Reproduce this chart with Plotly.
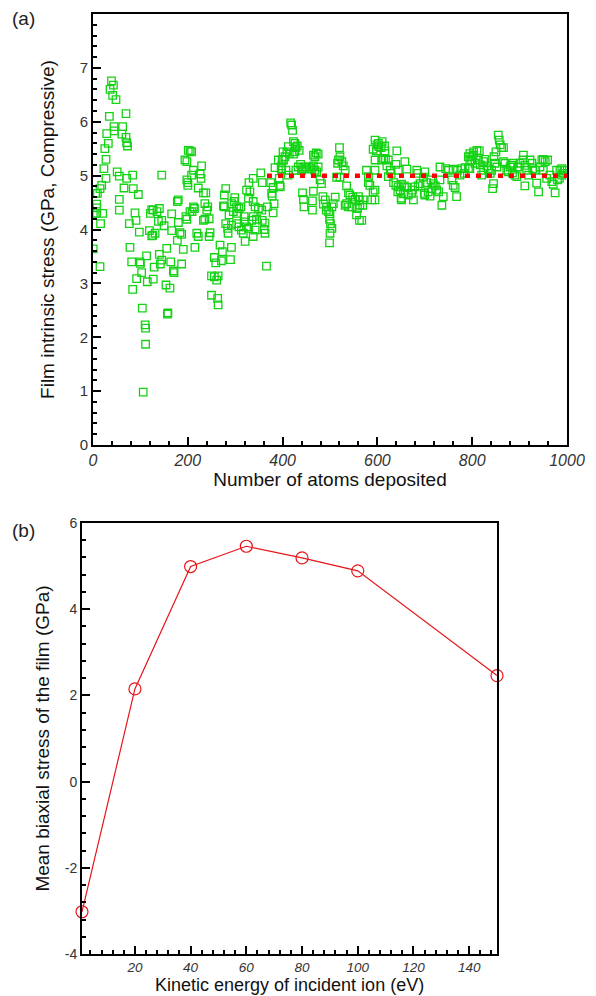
import plotly.graph_objects as go

# ---------------- Panel (a) data ----------------
atoms = [
 39,43,36,41.5,48.5,69.6,34.5,44.3,45,62.6,61,69.6,71,72.8,29,32.3,25,27.4,23,27.4,
 51,55.5,71,83.7,145,18.3,14.8,9.2,5.6,65.4,85,95.6,55.5,7.7,8,55.5,7.7,20.5,0.7,88.6,
 16,76.6,90.7,97.7,124,127,140,135,121,180,178,204.6,166,196,198,138,145,150,180,119,
 124,126,131,166,183.5,187,178,78,155.5,190.5,0.5,140,113,81.6,99,100,145,142,164,187,
 14.8,129,102.6,169.6,171,92,114.6,127,154,162.4,83.7,104,157,158,110,111,111,106,201,194,
 198,200,
 205,208,198,229,212,208,226,228,200,222,233,238,280,277,299,298,329,338,324,331,
 328,354,357,375,380,377,378,384,391,399,401,398,393,394,382,380,363,287,280,284,
 285,292,303,308,313,317,321,319,324,328,335,338,345,349,342,338,356,368,357,363,
 361,342,338,321,268,273,292,256,259,271,290,250,256,264,261,250,263,264,366,219,
 222,215,247,245,277,214,209,212,236,242,240,236,245,233,275,292.5,303,308,312,305,
 296,
 417,419,421,423,426,428,431,435,412,409,414,405,402,398,397,426,423,395,407,412,
 433,438,440,442,447,451,456,461,465,468,472,475,428,465,471,475,468,479,482,442,
 465,444,463,463,445,485,490,486,493,497,492,500,504,511,507,499,501,504,500,499,
 520,521,518,525,528,516,532,514,521,535,539,542,535,532,539,546,548,553,560,562,
 563,558,570,569,556,562,567,577,581,581,584,591,588,591,595,598,602,595,
 595,599,603,608,610,615,616,613,617,623,609,620,627,629,623,641,658,662,639,644,
 595,595,634,639,644,651,657,662,648,643,655,650,651,665,672,674,679,676,686,690,
 685,683,700,697,704,699,707,715,718,713,722,725,729,732,732,744,750,760,769,778,
 785,700,711,739,736,760,764,767,757,774,783,792,795,799,802,792,
 795,803,810,815,799,806,795,813,817,824,827,831,834,824,820,838,841,845,843,848,
 852,855,857,859,862,866,850,846,866,869,873,876,880,883,887,885,890,894,897,901,
 908,907,911,915,919,922,926,928,933,911,936,940,947,950,954,959,943,950,964,957,
 968,971,975,978,985,989,996,980,984,989,992,
]
stress = [
 6.76,6.68,6.60,6.49,6.41,6.15,6.10,5.91,5.83,5.91,5.77,5.71,5.61,5.55,5.78,5.60,5.50,5.30,5.13,4.95,
 5.07,4.99,4.95,5.01,5.01,4.82,4.76,4.67,4.67,4.77,4.76,4.65,4.56,4.47,4.40,4.36,4.30,4.30,4.30,4.31,
 4.11,4.11,4.17,3.95,4.37,4.36,4.39,4.33,4.30,4.55,4.52,4.33,4.29,4.24,4.19,4.15,4.17,4.07,4.13,3.98,
 3.88,3.89,3.93,3.98,3.94,3.91,3.80,3.67,3.65,3.63,3.64,3.54,3.51,3.40,3.40,3.37,3.43,3.36,3.40,3.36,
 3.31,3.30,3.20,3.23,3.20,3.09,3.03,3.08,2.97,2.91,2.89,2.54,2.43,2.45,2.23,2.17,1.87,0.98,5.47,5.29,
 4.92,4.82,
 5.46,5.44,5.26,5.18,5.10,5.01,5.03,4.95,4.87,4.77,4.68,4.68,4.76,4.64,4.59,4.52,4.87,4.95,4.73,4.70,
 4.58,5.05,4.87,4.87,4.78,4.67,4.62,5.15,5.29,5.29,5.44,5.10,4.95,4.82,4.48,4.31,3.93,4.27,4.11,4.02,
 3.93,4.08,4.11,4.05,3.99,3.93,4.14,4.24,4.05,4.02,4.17,4.24,4.19,4.39,4.42,4.52,4.36,4.42,4.17,4.12,
 4.00,3.99,3.87,3.78,3.71,3.59,3.67,3.48,3.38,3.42,3.44,3.14,3.12,3.14,3.06,2.78,2.72,2.60,3.32,3.93,
 3.87,3.67,3.94,3.87,4.42,4.39,4.33,4.42,4.48,4.42,4.36,4.19,4.20,4.17,4.44,4.48,4.42,4.39,4.42,4.30,
 4.33,
 5.98,5.94,5.84,5.63,5.60,5.52,5.55,5.47,5.54,5.44,5.41,5.35,5.29,5.18,5.13,5.44,5.40,4.79,5.10,5.01,
 5.16,5.21,5.10,5.13,5.16,5.12,5.16,5.13,5.18,5.10,5.07,5.16,5.10,5.38,5.42,5.40,5.35,4.92,4.85,4.68,
 4.71,4.56,4.53,4.36,4.42,4.61,4.55,4.47,4.42,4.33,4.36,4.29,4.42,4.60,4.48,4.19,4.11,4.02,3.93,3.75,
 5.52,5.35,5.29,5.26,5.18,5.23,5.10,4.97,4.97,4.81,4.68,4.64,4.48,4.45,4.42,4.42,4.60,4.56,4.61,4.55,
 4.45,4.39,4.55,4.45,4.27,4.17,4.17,5.10,4.98,4.87,4.82,4.70,4.55,5.49,5.29,5.46,5.60,5.10,
 5.66,5.57,5.54,5.52,5.63,5.55,5.46,5.32,5.30,5.29,5.29,5.18,5.10,5.04,4.98,5.46,5.26,5.12,5.21,5.10,
 4.73,4.55,4.87,4.82,4.79,4.84,4.81,4.78,4.73,4.70,4.66,4.58,4.55,4.64,4.67,4.73,4.79,4.55,4.81,4.85,
 5.04,5.10,5.07,4.97,4.87,4.67,4.70,4.76,4.85,4.92,4.81,4.73,4.70,4.92,5.16,5.13,5.10,5.12,5.10,5.13,
 5.15,4.64,4.62,4.61,4.45,4.82,4.78,4.61,4.92,5.01,5.04,5.13,5.29,5.35,5.38,5.35,
 5.41,5.44,5.47,5.46,5.29,5.23,5.13,5.29,5.20,5.26,5.30,5.18,5.13,5.10,5.01,5.04,5.10,4.85,4.76,5.23,
 5.16,5.75,5.66,5.57,5.52,5.52,5.44,5.35,5.26,5.23,5.10,5.07,5.16,5.19,5.23,5.05,5.01,4.98,5.16,5.23,
 5.38,5.29,5.19,5.10,5.01,5.29,5.23,5.13,5.10,4.81,4.86,4.70,5.29,5.30,5.26,5.29,5.16,5.10,5.01,4.95,
 4.89,4.84,4.68,5.10,5.10,5.13,5.10,4.92,4.95,5.01,5.04,
]
mean_x = [367, 1000]
mean_y = [5.0, 5.0]
a_xticks = [0, 200, 400, 600, 800, 1000]
a_yticks = [0, 1, 2, 3, 4, 5, 6, 7, 8]

# ---------------- Panel (b) data ----------------
energy = [1, 20, 40, 60, 80, 100, 150]
mean_stress = [-3.02, 2.15, 4.99, 5.46, 5.19, 4.89, 2.46]
b_xticks = [20, 40, 60, 80, 100, 120, 140]
b_yticks = [-4, -2, 0, 2, 4, 6]

W, H = 596, 996
OFF = 8  # page body margin offset of the figure inside the window
def px_x(p): return (p - OFF) / W
def px_y(p): return 1 - (p - OFF) / H

fig = go.Figure()
fig.add_trace(go.Scatter(x=atoms, y=stress, mode="markers",
                         marker=dict(symbol="square-open", size=7.5, color="#14d214",
                                     line=dict(width=1.3, color="#14d214")),
                         xaxis="x", yaxis="y", showlegend=False))
fig.add_trace(go.Scatter(x=mean_x, y=mean_y, mode="lines",
                         line=dict(color="#ff0000", width=4.5, dash="5px,6px"),
                         xaxis="x", yaxis="y", showlegend=False))
fig.add_trace(go.Scatter(x=energy, y=mean_stress, mode="lines+markers",
                         line=dict(color="#e8141a", width=1.2),
                         marker=dict(symbol="circle-open", size=12, color="#e8141a",
                                     line=dict(width=1.2, color="#e8141a")),
                         xaxis="x2", yaxis="y2", showlegend=False, cliponaxis=False))

FAM = "Liberation Sans, Arial, sans-serif"
ytickfont = dict(family=FAM, size=15, color="#333333")
xtickfont = dict(family=FAM, size=16, color="#333333", style="italic")
b_ytickfont = dict(family=FAM, size=14, color="#333333")
b_xtickfont = dict(family=FAM, size=13.5, color="#333333", style="italic")
titlefont = dict(family=FAM, size=19, color="#111111")
b_xtitlefont = dict(family=FAM, size=18, color="#111111")

common = dict(showline=True, linecolor="black", linewidth=2, mirror=True,
              showgrid=False, zeroline=False, ticks="inside", tickcolor="black",
              tickwidth=2, ticklen=8, automargin=False)
minor_style = dict(ticks="inside", ticklen=4, tickcolor="black", tickwidth=1.5)

fig.update_layout(
    template="none",
    width=W, height=H, margin=dict(l=0, r=0, t=0, b=0, autoexpand=False),
    paper_bgcolor="white", plot_bgcolor="white",
    xaxis=dict(domain=[px_x(93), px_x(567)], range=[0, 1000], tickvals=a_xticks,
               minor=dict(dtick=40, **minor_style),
               tickfont=xtickfont, anchor="y",
               title=dict(text="Number of atoms deposited", font=titlefont, standoff=0), **common),
    yaxis=dict(domain=[px_y(445), px_y(14)], range=[0, 8], tickvals=a_yticks,
               minor=dict(dtick=0.2, **minor_style),
               tickfont=ytickfont, anchor="x",
               title=dict(text="Film intrinsic stress (GPa, Compressive)", font=titlefont, standoff=20), **common),
    xaxis2=dict(domain=[px_x(82), px_x(497)], range=[1, 150], tickvals=b_xticks,
                minor=dict(tickvals=[i for i in range(4, 150, 4) if i % 20 != 0], **minor_style),
                tickfont=b_xtickfont, anchor="y2", **common),
    yaxis2=dict(domain=[px_y(954), px_y(523)], range=[-4, 6], tickvals=b_yticks,
                ticktext=[str(v) for v in b_yticks],
                minor=dict(dtick=0.4, **minor_style),
                tickfont=b_ytickfont, anchor="x2",
                title=dict(text="Mean biaxial stress of the film (GPa)", font=titlefont, standoff=10), **common),
    annotations=[
        dict(text="(a)", x=px_x(10), y=px_y(18), xref="paper", yref="paper", showarrow=False,
             xanchor="left", yanchor="middle", font=dict(family=FAM, size=19, color="#222")),
        dict(text="(b)", x=px_x(10), y=px_y(530), xref="paper", yref="paper", showarrow=False,
             xanchor="left", yanchor="middle", font=dict(family=FAM, size=19, color="#222")),
        dict(text="Kinetic energy of incident ion (eV)", x=px_x(289.5), y=px_y(985),
             xref="paper", yref="paper", showarrow=False, xanchor="center", yanchor="middle",
             font=b_xtitlefont),
    ],
)

fig.write_html("out.html")
